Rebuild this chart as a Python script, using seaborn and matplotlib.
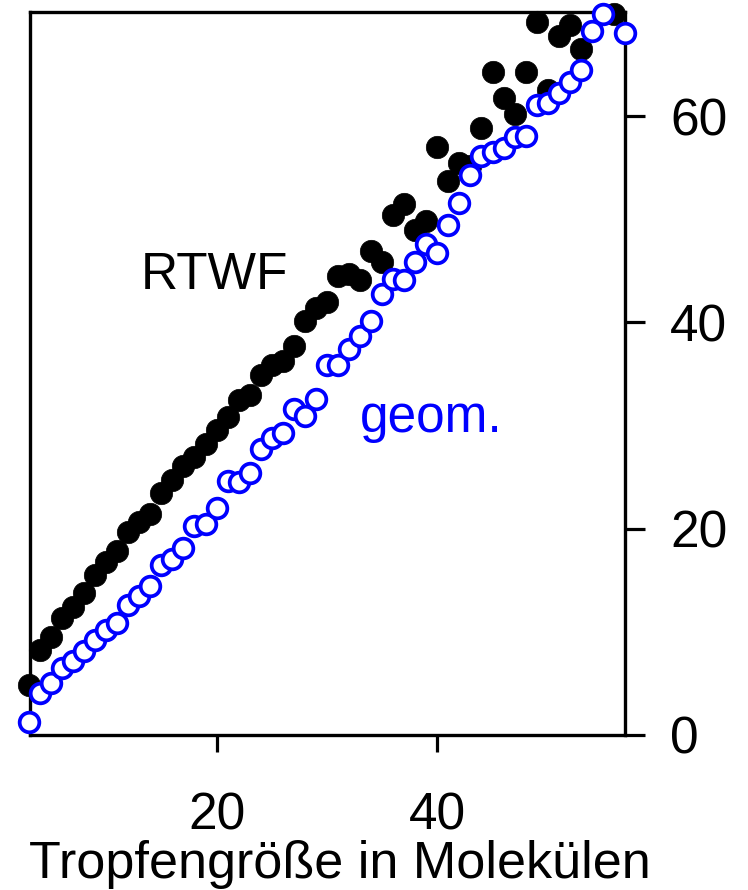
import matplotlib
matplotlib.use("Agg")
import matplotlib.pyplot as plt
import seaborn as sns
import pandas as pd

# ---- data ----
rtwf_x = list(range(3, 54)) + [56]
rtwf_y = [4.85, 8.2, 9.5, 11.3, 12.4, 13.8, 15.5, 16.8, 17.8, 19.7,
          20.7, 21.4, 23.5, 24.7, 26.1, 27.0, 28.2, 29.6, 30.8, 32.5,
          33.0, 34.9, 35.9, 36.3, 37.7, 40.1, 41.4, 42.0, 44.5, 44.7,
          44.1, 46.9, 45.9, 50.4, 51.5, 49.0, 49.8, 57.0, 53.7, 55.5,
          55.2, 58.9, 64.3, 61.8, 60.2, 64.3, 69.1, 62.5, 67.8, 68.8,
          66.5, 69.9]
geom_x = list(range(3, 56)) + [57]
geom_y = [1.3, 4.1, 5.0, 6.5, 7.2, 8.1, 9.2, 10.2, 10.9, 12.6,
          13.5, 14.4, 16.5, 17.1, 18.1, 20.3, 20.5, 22.0, 24.6, 24.5,
          25.4, 27.7, 28.8, 29.3, 31.6, 30.9, 32.6, 35.9, 35.9, 37.4,
          38.7, 40.1, 42.8, 44.2, 44.1, 45.9, 47.6, 46.7, 49.4, 51.6,
          54.3, 56.1, 56.5, 56.9, 58.0, 58.1, 61.1, 61.3, 62.2, 63.3,
          64.5, 68.3, 69.9, 68.1]
x_ticks = [20, 40]
y_ticks = [0, 20, 40, 60]
x_label = "Tropfengröße in Molekülen"
label_rtwf = "RTWF"
label_geom = "geom."

df_r = pd.DataFrame({"n": rtwf_x, "v": rtwf_y})
df_g = pd.DataFrame({"n": geom_x, "v": geom_y})

sns.set_style("white")
plt.rcParams["font.family"] = ["Liberation Sans", "DejaVu Sans"]
plt.rcParams["text.color"] = "black"
plt.rcParams["axes.labelcolor"] = "black"

fig = plt.figure(figsize=(7.48, 8.9), dpi=100)
ax = fig.add_axes([30/748, 1-735/890, 595/748, 723/890])

sns.scatterplot(data=df_r, x="n", y="v", ax=ax, color="black", s=260,
                edgecolor="black", linewidth=0.5, clip_on=False, zorder=3)
sns.scatterplot(data=df_g, x="n", y="v", ax=ax, facecolor="white", s=200,
                edgecolor="#0000FF", linewidth=2.7, clip_on=False, zorder=4)

ax.set_xlim(3.1, 57.0)
ax.set_ylim(0, 70.1)
ax.set_xticks(x_ticks)
ax.set_yticks(y_ticks)
ax.yaxis.tick_right()
ax.tick_params(axis="x", direction="out", length=12.5, width=2.3, labelsize=37,
               pad=28, bottom=True, colors="black")
ax.tick_params(axis="y", direction="out", length=14.5, width=2.3, labelsize=37,
               pad=18, right=True, left=False, colors="black")

for sp in ax.spines.values():
    sp.set_linewidth(2.4)
    sp.set_color("black")
    sp.set_visible(True)

ax.set_xlabel(x_label, fontsize=37.5, color="black")
ax.xaxis.set_label_coords(0.52, -0.145)
ax.set_ylabel("")

ax.text(13.1, 43.2, label_rtwf, fontsize=37, color="black", ha="left", va="baseline")
ax.text(33.0, 29.4, label_geom, fontsize=37, color="#0000FF", ha="left", va="baseline")

fig.savefig("out.png", dpi=100)
